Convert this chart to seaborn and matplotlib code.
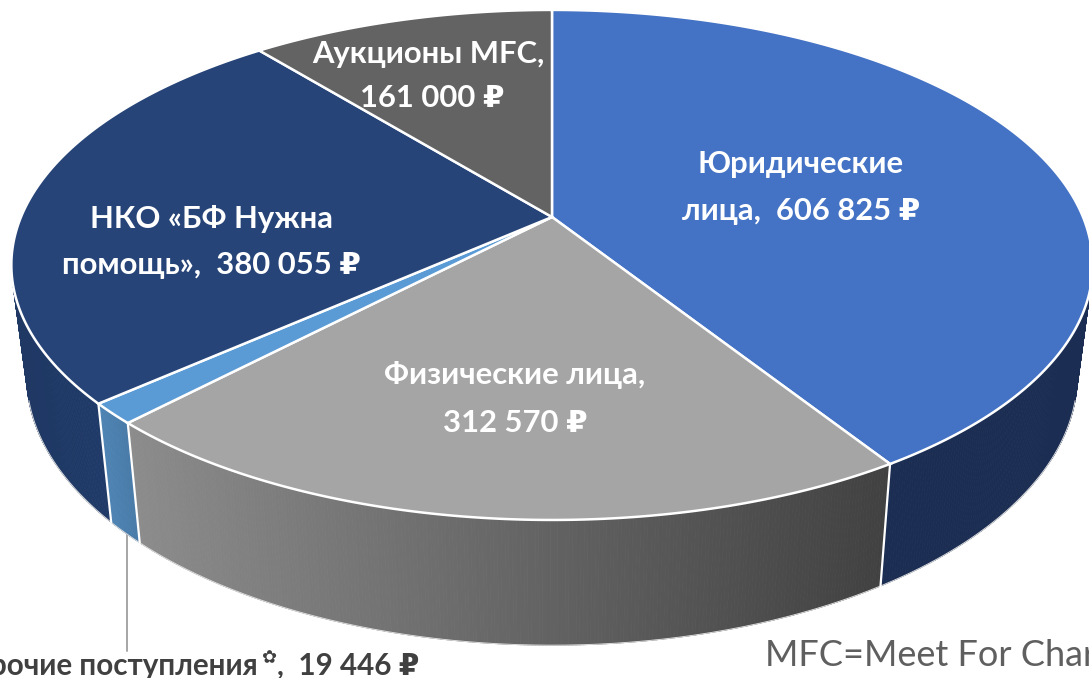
#!/usr/bin/env python3
# -*- coding: utf-8 -*-

import numpy as np
import matplotlib
matplotlib.use('Agg')
import matplotlib.pyplot as plt
from matplotlib.collections import PolyCollection
from matplotlib.colors import to_rgb
import seaborn as sns

# data, clockwise from 12 o'clock
categories = ['Юридические лица', 'Физические лица', 'Прочие поступления',
              'НКО «БФ Нужна помощь»', 'Аукционы MFC']
amounts = [606825, 312570, 19446, 380055, 161000]

top_colors = ['#4472C4', '#A5A5A5', '#5B9BD5', '#264478', '#636363']
# wall colour where each slice starts / ends, going clockwise
wall_start = ['#1B2D52', '#414141', '#497BA8', '#1F3A68', '#3B3B3B']
wall_end = ['#1B2D52', '#8C8C8C', '#4E84B4', '#203660', '#3B3B3B']

sns.set_theme(style='white')
FONT = ['Lato', 'DejaVu Sans']
plt.rcParams['font.family'] = FONT

W, H = 1089, 678
fig = plt.figure(figsize=(W / 100, H / 100), dpi=100)
ax = fig.add_axes([0, 0, 1, 1])
palette = sns.color_palette(top_colors)

# perspective of the disc, in pixels of the picture
CX, TILT = 552, 0.188


def project(theta, lid=True):
    '''
    theta is degrees clockwise from the top; lid or underside of the pie
    '''
    x = np.sin(np.radians(theta))
    y = np.cos(np.radians(theta))
    w = 1 + TILT * y
    if lid:
        return CX + 531 * x / w, 217 - 246 * y / w
    return CX + 516 * x / w, 325 - 260 * y / w


edges = np.concatenate([[0], np.cumsum(amounts) / np.sum(amounts) * 360])

# side walls first, as thin strips so the gradient can follow x
for i in range(len(amounts)):
    th = np.linspace(edges[i], edges[i + 1], int((edges[i + 1] - edges[i]) * 3) + 2)
    tx, ty = project(th)
    bx, by = project(th, lid=False)
    quads, cols = [], []
    for j in range(len(th) - 1):
        quads.append([(tx[j], ty[j]), (tx[j + 1], ty[j + 1]), (bx[j + 1], by[j + 1]), (bx[j], by[j])])
        mid = (tx[j] + bx[j]) / 2
        span = (mid - (tx[0] + bx[0]) / 2) / max(abs((tx[-1] + bx[-1] - tx[0] - bx[0]) / 2), 1)
        f = np.clip(abs(span), 0, 1)
        cols.append(tuple(np.array(to_rgb(wall_start[i])) * (1 - f) + np.array(to_rgb(wall_end[i])) * f))
    ax.add_collection(PolyCollection(quads, facecolors=cols, edgecolors=cols, linewidths=0.6, zorder=1))

# faint rim of the underside, visible part only
th = np.linspace(106, 254, 400)
bx, by = project(th, lid=False)
ax.plot(bx, by, color='#DDDDDD', lw=0.7, zorder=2)

# white seams on the wall
for e in edges[1:4]:
    tx, ty = project(e)
    bx, by = project(e, lid=False)
    ax.plot([tx, bx], [ty, by], color='white', lw=1.6, zorder=3)

# lid
for i in range(len(amounts)):
    th = np.linspace(edges[i], edges[i + 1], 300)
    tx, ty = project(th)
    ax.fill(np.r_[CX, tx], np.r_[217, ty], facecolor=palette[i], edgecolor='white',
            lw=1.8, joinstyle='miter', zorder=4)

# leader of the small slice
lx, ly = project((edges[2] + edges[3]) / 2 - 0.3, lid=False)
ax.plot([lx, lx], [ly, 651], color='#A6A6A6', lw=1.4, zorder=0)

# labels
labels = [
    ('Юридические', 801, 164), ('лица,  606 825 ₽', 801, 211),
    ('Физические лица,', 515, 375), ('312 570 ₽', 515, 423),
    ('НКО «БФ Нужна', 211, 219), ('помощь»,  380 055 ₽', 211, 265),
    ('Аукционы MFC,', 428, 54), ('161 000 ₽', 432, 98),
]
for s, x, y in labels:
    ax.text(x, y, s, color='white', fontsize=22.3, fontweight='bold', ha='center', va='center', zorder=5)

ax.text(258, 666, 'Прочие поступления', color='#404040', fontsize=21.3, fontweight='bold',
        ha='right', va='center', zorder=5)
ax.text(269, 658, '✿', color='#404040', fontsize=13, ha='center', va='center', zorder=5,
        family=['DejaVu Sans'])
ax.text(277, 666, ',  19 446 ₽', color='#404040', fontsize=21.3, fontweight='bold',
        ha='left', va='center', zorder=5)
ax.text(765, 656, 'MFC=Meet For Charity', color='#5F5F5F', fontsize=26, fontweight='normal',
        ha='left', va='center', zorder=5)

ax.set_xlim(0, W)
ax.set_ylim(H, 0)
ax.axis('off')
fig.savefig('out.png', dpi=100, facecolor='white')
